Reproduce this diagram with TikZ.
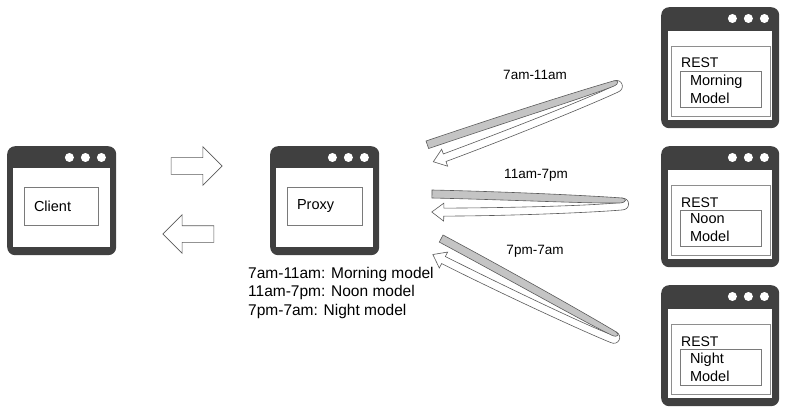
\documentclass[tikz,border=0pt]{standalone}
\usepackage{fontspec}
\setmainfont{Liberation Sans}
\usetikzlibrary{shapes.arrows}
\definecolor{frame}{HTML}{404040}
\definecolor{boxline}{HTML}{7A7A7A}
\definecolor{ribgray}{HTML}{C4C4C4}
\definecolor{ribline}{HTML}{5A5A5A}
\tikzset{
    winframe/.style={fill=frame,rounded corners=8pt,inner sep=0pt,anchor=north west},
    txtbox/.style={draw=boxline,line width=0.8pt,fill=white,align=left,inner xsep=10pt,
        font=\fontsize{14.5}{18}\selectfont},
    blockarrow/.style={single arrow,draw=ribline,fill=white,line width=0.6pt,minimum height=51pt,
        inner xsep=0pt,inner ysep=8pt,single arrow head extend=11pt},
    ribfront/.style={fill=ribgray,draw=ribline,line width=0.6pt},
    ribback/.style={fill=white,draw=ribline,line width=0.6pt},
    timelab/.style={font=\fontsize{13.5}{16}\selectfont}
}
% curled ribbon: x, y, angle, length
\newcommand\ribbon[4]{%
\begin{scope}[shift={(#1,#2)},rotate=#3]
    \filldraw[ribback] (12,18) .. controls (80,17) and (#4-40,14) .. (#4-14,11) -- (#4-8,6)
        .. controls (#4+1,6) and (#4+1,18) .. (#4-8,18)
        .. controls (#4-40,21) and (80,25) .. (12,26) -- (12,31) -- (0,22) -- (12,13) -- cycle;
    \filldraw[ribfront] (0,0) .. controls (80,1) and (#4-40,4) .. (#4-8,6)
        .. controls (#4-3,6.3) and (#4-3,10.5) .. (#4-10,11)
        .. controls (#4-40,12) and (80,9) .. (0,8) -- cycle;
\end{scope}}
\begin{document}
\begin{tikzpicture}[x=1pt,y=-1pt]
\useasboundingbox (0,0) rectangle (786,414);
% windows
\foreach \nm/\x/\y/\w/\h/\s/\t in {client/7/146/109/109/6/22,proxy/270/146/109/109/6/22,
        morning/661/7/118/121/7/24,noon/661/146/118/121/7/24,night/661/285/118/121/7/24}{
    \node[winframe,minimum width=\w pt,minimum height=\h pt] (\nm) at (\x,\y) {};
    \fill[white] ([xshift=\s pt,yshift=-\t pt]\nm.north west) rectangle ([xshift=-\s pt,yshift=8pt]\nm.south east);
    \foreach \d in {15,31,47}
        \fill[white] ([xshift=-\d pt,yshift=-11.5pt]\nm.north east) circle (4.5pt);
}
\node[txtbox,text width=54pt,minimum height=38pt] (clientbox) at (61,206) {Client};
\node[txtbox,text width=55pt,minimum height=38pt] (proxybox) at (324.5,206) {Proxy};
% REST servers
\foreach \nm/\y/\lab in {morning/7/Morning,noon/146/Noon,night/285/Night}{
    \draw[boxline!85,line width=0.9pt] (671,\y+39) rectangle (770,\y+109);
    \node[anchor=base west,inner sep=0pt,font=\fontsize{14}{17}\selectfont] (\nm rest) at (681,\y+61) {REST};
    \node[txtbox,text width=61pt,minimum height=36pt,inner ysep=1pt] (\nm box) at (720.5,\y+82) {\lab\\Model};
}
% request / response
\node[blockarrow] (toproxy) at (192.5,166) {};
\node[blockarrow,shape border rotate=180] (toclient) at (192.5,234) {};
\node[anchor=north west,align=left,inner sep=0pt,font=\fontsize{15.5}{18.5}\selectfont] (rules) at (248,267)
    {7am-11am: Morning model\\11am-7pm: Noon model\\7pm-7am: Night model};
% routing ribbons
\ribbon{426}{141}{19.5}{205}
\ribbon{432}{190}{-0.6}{198}
\ribbon{443}{235}{-27.5}{206}
\node[timelab] (tmorning) at (535,75) {7am-11am};
\node[timelab] (tnoon) at (536,175) {11am-7pm};
\node[timelab] (tnight) at (535,251) {7pm-7am};
\end{tikzpicture}
\end{document}
